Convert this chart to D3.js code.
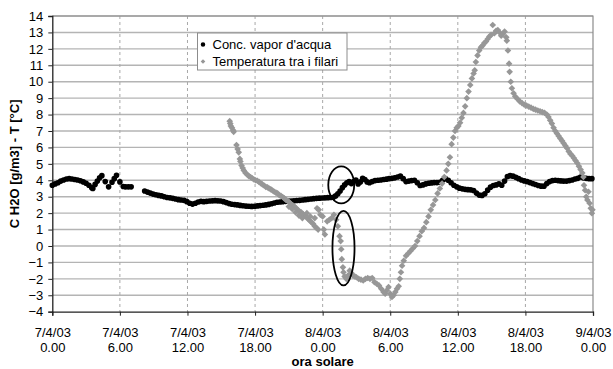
<!DOCTYPE html>
<html>
<head>
<meta charset="utf-8">
<script src="https://cdn.jsdelivr.net/npm/d3@7/dist/d3.min.js"></script>
<style>
  html, body { margin: 0; padding: 0; background: #fff; }
  svg { display: block; }
  text { font-family: "Liberation Sans", Arial, sans-serif; fill: #000; }
</style>
</head>
<body>
<svg id="chart" width="613" height="369"></svg>
<script>
// Hours since 7/4/03 0.00, and water vapour concentration [g/m3]
const vapor = [
  [0,3.7],[0.25,3.78],[0.5,3.85],[0.75,3.95],[1,4.02],[1.25,4.08],[1.5,4.1],[1.75,4.08],[2,4.05],[2.25,4.02],[2.5,3.97],[2.75,3.9],[3,3.82],[3.25,3.7],[3.5,3.55],[3.6,3.5],
  [3.8,3.75],[4.0,3.95],[4.2,4.15],[4.4,4.28],
  [4.7,3.92],[5.0,3.6],
  [5.3,3.88],[5.5,4.1],[5.7,4.3],
  [6.0,3.9],[6.3,3.62],[6.5,3.6],[6.75,3.6],[7.0,3.6],
  [8.2,3.35],[8.45,3.28],[8.7,3.22],[8.95,3.16],[9.2,3.12],[9.45,3.08],[9.7,3.05],[9.95,3.0],[10.2,2.95],[10.45,2.93],[10.7,2.9],[10.95,2.86],[11.2,2.82],[11.45,2.8],[11.7,2.78],[11.95,2.7],[12.2,2.6],[12.45,2.55],[12.7,2.6],[12.95,2.68],[13.2,2.72],[13.45,2.7],[13.7,2.72],[13.95,2.74],[14.2,2.75],[14.45,2.76],[14.7,2.75],[14.95,2.74],[15.2,2.7],[15.45,2.64],[15.7,2.58],[15.95,2.54],[16.2,2.52],[16.45,2.5],[16.7,2.47],[16.95,2.45],[17.2,2.43],[17.45,2.42],[17.7,2.41],[17.95,2.42],[18.2,2.44],[18.45,2.46],[18.7,2.48],[18.95,2.5],[19.2,2.53],[19.45,2.57],[19.7,2.62],[19.95,2.66],[20.2,2.68],[20.45,2.7],[20.7,2.72],[20.95,2.73],[21.2,2.74],[21.45,2.75],[21.7,2.77],[21.95,2.78],[22.2,2.8],[22.45,2.82],[22.7,2.84],[22.95,2.86],[23.2,2.88],[23.45,2.9],[23.7,2.91],[23.95,2.92],[24.2,2.93],[24.45,2.94],[24.7,2.95],[24.95,2.97],
  [25.15,3.05],[25.35,3.18],[25.55,3.35],[25.75,3.55],[25.95,3.72],[26.15,3.85],[26.35,3.92],[26.55,3.8],[26.75,3.92],[26.95,4.02],[27.15,3.78],[27.35,3.9],[27.55,4.12],[27.75,4.05],[27.95,3.9],[28.15,3.85],[28.4,3.92],[28.65,3.98],[28.9,4.0],[29.15,4.02],[29.4,4.05],[29.65,4.07],[29.9,4.1],[30.15,4.12],[30.4,4.15],[30.65,4.2],[30.9,4.25],[31.15,4.1],[31.4,3.92],[31.65,3.95],[31.9,3.98],[32.15,4.0],[32.4,3.85],[32.65,3.68],[32.9,3.72],[33.15,3.78],[33.4,3.82],[33.65,3.84],[33.9,3.86],[34.15,3.86],[34.4,3.88],[34.65,4.0],[34.9,4.1],[35.15,4.0],[35.4,3.85],[35.65,3.7],[35.9,3.6],[36.15,3.52],[36.4,3.48],[36.65,3.45],[36.9,3.43],[37.15,3.42],[37.4,3.38],[37.65,3.22],[37.9,3.1],[38.15,3.08],[38.4,3.18],[38.65,3.4],[38.9,3.58],[39.15,3.68],[39.4,3.72],[39.65,3.78],[39.9,3.7],[40.15,3.95],[40.4,4.22],[40.65,4.28],[40.9,4.25],[41.15,4.18],[41.4,4.1],[41.65,4.02],[41.9,3.96],[42.15,3.92],[42.4,3.86],[42.65,3.8],[42.9,3.74],[43.15,3.68],[43.4,3.64],[43.65,3.64],[43.9,3.8],[44.15,3.92],[44.4,3.98],[44.65,4.0],[44.9,3.98],[45.15,3.96],[45.4,3.95],[45.65,3.95],[45.9,3.98],[46.15,4.02],[46.4,4.08],[46.65,4.12],[46.9,4.2],[47.15,4.15],[47.4,4.12],[47.65,4.1],[47.9,4.1]
];

// Hours since 7/4/03 0.00, and air temperature between the rows [°C]
const temperature = [
  [15.75,7.6],[15.8,7.45],[15.85,7.3],[15.95,7.2],[16.05,7.05],[16.1,6.95],[16.35,6.15],[16.45,5.9],[16.55,5.7],[16.65,5.3],[16.7,5.15],[16.8,4.9],[16.9,4.75],[17.0,4.6],[17.15,4.45],[17.3,4.35],[17.45,4.25],[17.6,4.2],[17.75,4.12],[17.9,4.05],[18.05,4.0],[18.2,3.97],[18.35,3.9],[18.5,3.82],[18.65,3.75],[18.8,3.68],[18.95,3.6],[19.1,3.57],[19.25,3.5],[19.4,3.45],[19.55,3.38],[19.7,3.3],[19.85,3.25],[20.0,3.2],[20.15,3.1],[20.3,3.05],[20.45,2.98],[20.6,2.9],[20.75,2.8],[20.9,2.75],[21.05,2.65],[21.2,2.55],[21.35,2.48],[21.5,2.4],[21.65,2.3],[21.8,2.2],[21.95,2.1],[22.1,2.05],[22.25,1.95],[22.4,1.85],[22.55,1.78],[22.7,1.65],[22.85,1.55],[23.0,1.45],[23.15,1.35],[23.3,1.2],[23.45,1.1],[23.6,1.0],
  [21.0,2.4],[21.3,2.25],[21.6,2.05],[21.9,1.85],[22.2,1.7],[22.6,2.0],[22.9,1.8],[23.3,1.7],[23.5,2.3],[23.65,2.2],[23.8,1.9],[24.0,1.8],[24.1,1.0],[24.2,0.7],[24.4,1.5],[24.6,1.6],[24.8,1.7],[25.0,1.9],[25.2,1.6],[25.35,1.2],
  [25.5,0.6],[25.6,0.3],[25.65,-0.2],[25.7,-0.8],[25.8,-1.3],[25.85,-1.6],[25.95,-1.85],[26.1,-2.0],[26.25,-1.8],[26.4,-1.5],[26.55,-1.65],[26.7,-1.8],[26.85,-1.85],[27.0,-1.9],[27.2,-2.0],[27.4,-2.05],[27.6,-2.1],[27.8,-2.0],[28.0,-1.95],[28.2,-2.0],[28.4,-1.95],[28.6,-2.2],[28.8,-2.3],[29.0,-2.4],[29.2,-2.6],[29.4,-2.8],[29.55,-2.9],[29.7,-2.7],[29.85,-2.5],[30.0,-2.9],[30.15,-3.1],[30.3,-3.0],[30.45,-2.8],[30.6,-2.6],[30.75,-2.45],[30.85,-2.0],[30.95,-1.6],[31.05,-1.2],[31.2,-0.9],[31.4,-0.6],[31.6,-0.45],[31.8,-0.3],[32.0,-0.15],[32.2,0.0],[32.4,0.3],[32.6,0.6],[32.8,0.9],[33.0,1.1],[33.2,1.45],[33.4,1.8],[33.6,2.2],[33.8,2.5],[34.0,2.8],[34.2,3.2],[34.4,3.5],[34.6,3.8],[34.8,4.2],[35.0,4.6],[35.15,5.0],[35.3,5.4],[35.45,6.2],[35.6,6.6],[35.75,7.0],[35.9,7.2],[36.05,7.3],[36.2,7.5],[36.35,7.8],[36.5,8.1],[36.65,8.5],[36.8,9.0],[36.95,9.4],[37.1,9.8],[37.25,10.2],[37.4,10.5],[37.5,10.7],[37.6,11.2],[37.75,11.6],[37.9,11.9],[38.05,12.1],[38.2,12.2],[38.35,12.35],[38.5,12.45],[38.65,12.6],[38.8,12.75],[38.95,12.85],[39.1,13.45],[39.25,12.95],[39.4,13.1],[39.55,13.15],[39.7,13.0],[39.85,12.8],[40.0,12.9],[40.15,13.05],[40.3,12.7],[40.35,12.5],[40.45,11.9],[40.55,11.1],[40.6,10.6],[40.7,10.0],[40.8,9.6],[40.95,9.3],[41.1,9.1],[41.3,8.95],[41.5,8.8],[41.7,8.7],[41.9,8.6],[42.1,8.55],[42.3,8.48],[42.5,8.42],[42.7,8.35],[42.9,8.3],[43.1,8.25],[43.3,8.2],[43.5,8.15],[43.7,8.1],[43.9,8.0],[44.05,7.85],[44.2,7.65],[44.35,7.45],[44.5,7.2],[44.65,7.0],[44.8,6.85],[44.95,6.7],[45.1,6.55],[45.25,6.4],[45.4,6.25],[45.55,6.1],[45.7,5.95],[45.85,5.75],[46.0,5.6],[46.15,5.5],[46.3,5.35],[46.45,5.2],[46.6,5.05],[46.75,4.85],[46.9,4.65],[47.05,4.45],[47.15,4.2],[47.2,3.7],[47.3,3.4],[47.4,3.0],[47.5,2.8],[47.6,3.3],[47.7,2.6],[47.8,2.3],[47.9,2.0],[47.95,2.2]
];

// Tick labels of the time axis (date / solar hour)
const tickHours = [0, 6, 12, 18, 24, 30, 36, 42, 48];
const tickDates = ["7/4/03","7/4/03","7/4/03","7/4/03","8/4/03","8/4/03","8/4/03","8/4/03","9/4/03"];
const tickTimes = ["0.00","6.00","12.00","18.00","0.00","6.00","12.00","18.00","0.00"];
const yTicks = d3.range(-4, 15, 1);

// Highlighted regions: [centre hour, centre value, half-width h, half-height value]
const highlights = [
  [25.65, 3.72, 1.15, 1.13],
  [25.85, -0.13, 0.98, 2.27]
];

const seriesNames = ["Conc. vapor d'acqua", "Temperatura tra i filari"];

const svg = d3.select("#chart");
const x = d3.scaleLinear().domain([0, 48]).range([52.3, 593]);
const y = d3.scaleLinear().domain([-4, 14]).range([311.7, 16]);

// Horizontal gridlines
svg.append("g").selectAll("line").data(yTicks.filter(v => v > -4)).join("line")
  .attr("x1", x(0)).attr("x2", x(48))
  .attr("y1", d => y(d)).attr("y2", d => y(d))
  .attr("stroke", "#b4b4b4").attr("stroke-width", 1.4);

// Vertical dashed gridlines
svg.append("g").selectAll("line").data(tickHours.filter(h => h > 0 && h < 48)).join("line")
  .attr("x1", d => x(d)).attr("x2", d => x(d))
  .attr("y1", y(14)).attr("y2", y(-4))
  .attr("stroke", "#a8a8a8").attr("stroke-width", 1).attr("stroke-dasharray", "3,3");

// Plot frame (top and right)
svg.append("path")
  .attr("d", `M${x(0)},${y(14)}H${x(48)}V${y(-4)}`)
  .attr("fill", "none").attr("stroke", "#8c8c8c").attr("stroke-width", 1.2);

// Axes
const yAxis = svg.append("g").attr("transform", `translate(${x(0)},0)`)
  .call(d3.axisLeft(y).tickValues(yTicks).tickSize(4).tickPadding(5).tickFormat(d3.format("d")));
const xAxis = svg.append("g").attr("transform", `translate(0,${y(-4)})`)
  .call(d3.axisBottom(x).tickValues(tickHours).tickSize(4).tickFormat(() => ""));
[yAxis, xAxis].forEach(g => {
  g.select(".domain").attr("stroke", "#222").attr("stroke-width", 1.3);
  g.selectAll(".tick line").attr("stroke", "#222");
  g.selectAll("text").style("font-family", "'Liberation Sans', Arial, sans-serif").style("font-size", "13px").attr("fill", "#000");
});
xAxis.selectAll(".tick").each(function(d, i) {
  const t = d3.select(this).append("text")
    .attr("text-anchor", "middle").attr("fill", "#000")
    .style("font-family", "'Liberation Sans', Arial, sans-serif").style("font-size", "13px");
  t.append("tspan").attr("x", 0).attr("y", 25.5).text(tickDates[i]);
  t.append("tspan").attr("x", 0).attr("y", 40.5).text(tickTimes[i]);
});

// Series markers
const dot = d3.symbol(d3.symbolCircle, 25);
const diamond = d3.symbol(d3.symbolSquare, 22);

svg.append("g").selectAll("path").data(vapor).join("path")
  .attr("d", dot)
  .attr("transform", d => `translate(${x(d[0])},${y(d[1])})`)
  .attr("fill", "#000");

svg.append("g").selectAll("path").data(temperature).join("path")
  .attr("d", diamond)
  .attr("transform", d => `translate(${x(d[0])},${y(d[1])}) rotate(45)`)
  .attr("fill", "#979797");

// Highlight ellipses
svg.append("g").selectAll("ellipse").data(highlights).join("ellipse")
  .attr("cx", d => x(d[0])).attr("cy", d => y(d[1]))
  .attr("rx", d => x(d[2]) - x(0)).attr("ry", d => y(0) - y(d[3]))
  .attr("fill", "none").attr("stroke", "#000").attr("stroke-width", 1.8);

// Legend
const legend = svg.append("g").attr("transform", "translate(197.5,33)");
legend.append("rect").attr("width", 149.5).attr("height", 37)
  .attr("fill", "#fff").attr("stroke", "#8c8c8c").attr("stroke-width", 1);
legend.append("path").attr("d", dot).attr("fill", "#000").attr("transform", "translate(5.5,11.5) scale(0.8)");
legend.append("path").attr("d", diamond).attr("transform", "translate(5.5,28.5) rotate(45) scale(0.7)").attr("fill", "#979797");
legend.selectAll("text").data(seriesNames).join("text")
  .attr("x", 15).attr("y", (d, i) => 16 + i * 17)
  .style("font-size", "13px").text(d => d);

// Axis titles
svg.append("text")
  .attr("transform", `translate(19,${(y(14) + y(-4)) / 2}) rotate(-90)`)
  .attr("text-anchor", "middle")
  .style("font-size", "13px").style("font-weight", "bold")
  .text("C H2O [g/m3] - T [°C]");
svg.append("text")
  .attr("x", (x(0) + x(48)) / 2).attr("y", 366)
  .attr("text-anchor", "middle")
  .style("font-size", "13px").style("font-weight", "bold")
  .text("ora solare");
</script>
</body>
</html>
